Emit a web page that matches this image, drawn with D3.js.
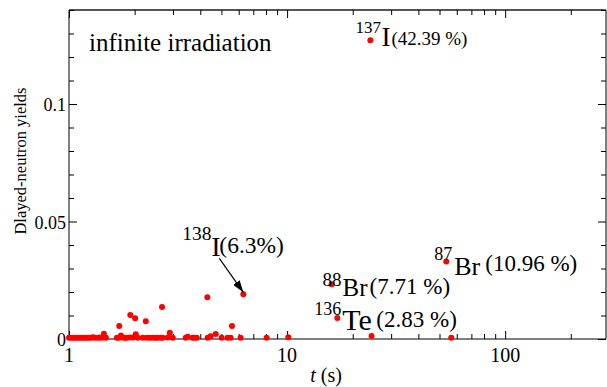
<!DOCTYPE html>
<html><head><meta charset="utf-8">
<script src="https://cdn.jsdelivr.net/npm/d3@7"></script>
<style>
html,body{margin:0;padding:0;background:#fff;}
svg{display:block;}
svg text{font-family:"Liberation Serif","Tinos","DejaVu Serif","Times New Roman",Times,serif;}
</style></head>
<body>
<svg id="c" width="607" height="387"></svg>
<script>
// half-lives t (s) of delayed-neutron precursors
const halfLives = [
  1.00,1.021,1.043,1.065,1.088,1.111,1.135,1.159,1.184,1.209,1.235,1.261,1.288,1.315,
  1.357,1.386,1.415,1.446,1.477,1.658,1.694,1.730,1.767,1.805,1.843,1.901,1.962,2.024,2.068,
  2.180,2.274,2.346,2.421,2.498,2.551,2.633,2.689,2.836,2.991,3.429,3.503,3.692,3.771,3.852,
  4.322,4.461,5.011,5.336,5.508,6.122,8.058,10.13,24.4,56.6,
  1.91,2.01,1.70,2.25,2.67,2.90,4.31,4.71,5.59,
  24.1,53.7,16.0,17.0,6.3
];
// delayed-neutron yields
const yields = [
  0.0005,0.0005,0.0005,0.0005,0.0005,0.0005,0.0005,0.0005,0.0005,0.0005,0.0005,0.0005,0.0007,0.0005,
  0.0005,0.0006,0.0005,0.0022,0.0005,0.0005,0.0005,0.0015,0.0006,0.0005,0.0005,0.0006,0.0006,0.0020,0.0005,
  0.0005,0.0005,0.0005,0.0005,0.0005,0.0005,0.0005,0.0005,0.0006,0.0005,0.0005,0.0010,0.0005,0.0005,0.0005,
  0.0005,0.0012,0.0005,0.0005,0.0005,0.0005,0.0005,0.0007,0.0013,0.0005,
  0.0102,0.0088,0.0055,0.0076,0.0136,0.0027,0.0178,0.0021,0.0055,
  0.1271,0.0330,0.0233,0.0089,0.0190
];
// labelled precursors
const labelMass = ["137","87","88","136","138"];
const labelElem = ["I","Br","Br","Te","I"];
const labelPct  = ["(42.39 %)","(10.96 %)","(7.71 %)","(2.83 %)","(6.3%)"];
const labelT    = [24.1,53.7,16.0,17.0,6.3];
const labelY    = [0.1271,0.0330,0.0233,0.0089,0.0190];

const xTicks = [1,10,100];
const xTickLabels = ["1","10","100"];
const yTicks = [0,0.05,0.1];
const yTickLabels = ["0","0.05","0.1"];

const FONT = '"Liberation Serif","Tinos","DejaVu Serif","Times New Roman",Times,serif';
const svg = d3.select("#c");
const L = 69, R = 606, T = 10, B = 339;
const x = d3.scaleLog().domain([1, 290]).range([L, R]);
const y = d3.scaleLinear().domain([0, 0.14]).range([B, T]);

const xMinor = [];
for (let d = 1; d <= 100; d *= 10) for (let k = 2; k <= 9; k++) if (d*k < 290) xMinor.push(d*k);
const yMinor = d3.range(0, 0.1401, 0.01).filter(v => !yTicks.some(t => Math.abs(t - v) < 1e-9));

const g = svg.append("g");
g.append("line").attr("x1",L).attr("x2",R).attr("y1",T).attr("y2",T).attr("stroke","#555").attr("stroke-width",2);
g.append("line").attr("x1",R).attr("x2",R).attr("y1",T).attr("y2",B).attr("stroke","#000").attr("stroke-width",1);

function addAxis(axisFn, scale, vals, size, tx, ty, keepDomain) {
  const a = g.append("g").attr("transform",`translate(${tx},${ty})`)
    .call(axisFn(scale).tickValues(vals).tickSize(size).tickFormat(""));
  if (!keepDomain) a.select(".domain").remove();
  else a.select(".domain").attr("stroke","#000");
  return a;
}
const axBottom = addAxis(d3.axisBottom, x, xTicks, -8, 0, B, true);
addAxis(d3.axisBottom, x, xMinor, -5, 0, B, false);
addAxis(d3.axisTop, x, xTicks, -8, 0, T, false);
addAxis(d3.axisTop, x, xMinor, -5, 0, T, false);
const axLeft = addAxis(d3.axisLeft, y, yTicks, -8, L, 0, true);
addAxis(d3.axisLeft, y, yMinor, -5, L, 0, false);
addAxis(d3.axisRight, y, yTicks, -8, R, 0, false);
addAxis(d3.axisRight, y, yMinor, -5, R, 0, false);
axBottom.select(".domain").attr("d", `M${L},0H${R}`);
axLeft.select(".domain").attr("d", `M0,${T}V${B}`);
g.selectAll(".tick line").attr("stroke","#000");

// tick labels
svg.append("g").selectAll("text").data(xTicks).join("text")
  .attr("x", d => x(d)).attr("y", 362).attr("text-anchor","middle")
  .attr("font-family", FONT).attr("font-size", 20).text((d,i) => xTickLabels[i]);
svg.append("g").selectAll("text").data(yTicks).join("text")
  .attr("x", 66).attr("y", d => y(d) + 7).attr("text-anchor","end")
  .attr("font-family", FONT).attr("font-size", 18).text((d,i) => yTickLabels[i]);

// axis titles
const xt = svg.append("text").attr("x", 326).attr("y", 382).attr("text-anchor","middle")
  .attr("font-family", FONT).attr("font-size", 20);
xt.append("tspan").attr("font-style","italic").text("t");
xt.append("tspan").text(" (s)");
svg.append("text").attr("transform","translate(26,161) rotate(-90)")
  .attr("text-anchor","middle").attr("font-family", FONT).attr("font-size", 16.5).text("Dlayed-neutron yields");

// points
svg.append("g").selectAll("circle").data(halfLives).join("circle")
  .attr("cx", d => x(d)).attr("cy", (d,i) => y(yields[i]))
  .attr("r", 3).attr("fill", "#f00");

svg.append("text").attr("x", 89).attr("y", 51).attr("font-family", FONT).attr("font-size", 25).text("infinite irradiation");

// label layout (offsets from point): [supDx, supDy, supSize, elDx, elDy, elSize, pctDx, pctDy, pctSize]
const labelLayout = [
  [-15, -7, 17, 11, 6, 27, 21, 5, 19],
  [-12, -1, 18, 8, 14, 26, 39, 10, 23],
  [-9, 2, 19, 11, 12, 25, 38, 10, 23],
  [-23, -3, 18, 5, 12, 30, 39, 9, 23],
  [-61, -54, 19.5, -32, -38, 28, -24, -41, 23.5]
];
labelT.forEach((t,i) => {
  const px = x(t), py = y(labelY[i]), s = labelLayout[i];
  const tx = svg.append("text").attr("font-family", FONT);
  tx.append("tspan").attr("x", px + s[0]).attr("y", py + s[1]).attr("font-size", s[2]).text(labelMass[i]);
  tx.append("tspan").attr("x", px + s[3]).attr("y", py + s[4]).attr("font-size", s[5]).text(labelElem[i]);
  tx.append("tspan").attr("x", px + s[6]).attr("y", py + s[7]).attr("font-size", s[8]).text(labelPct[i]);
});

const defs = svg.append("defs");
defs.append("marker").attr("id","ah").attr("viewBox","0 0 12 8").attr("refX",12).attr("refY",4)
  .attr("markerWidth",12).attr("markerHeight",8).attr("markerUnits","userSpaceOnUse").attr("orient","auto")
  .append("path").attr("d","M0,0L12,4L0,8Z").attr("fill","#000");
const ax = x(labelT[4]), ay = y(labelY[4]);
svg.append("line").attr("x1", ax - 24).attr("y1", ay - 36).attr("x2", ax).attr("y2", ay - 2)
  .attr("stroke","#000").attr("stroke-width",1.2).attr("marker-end","url(#ah)");
</script>
</body></html>
